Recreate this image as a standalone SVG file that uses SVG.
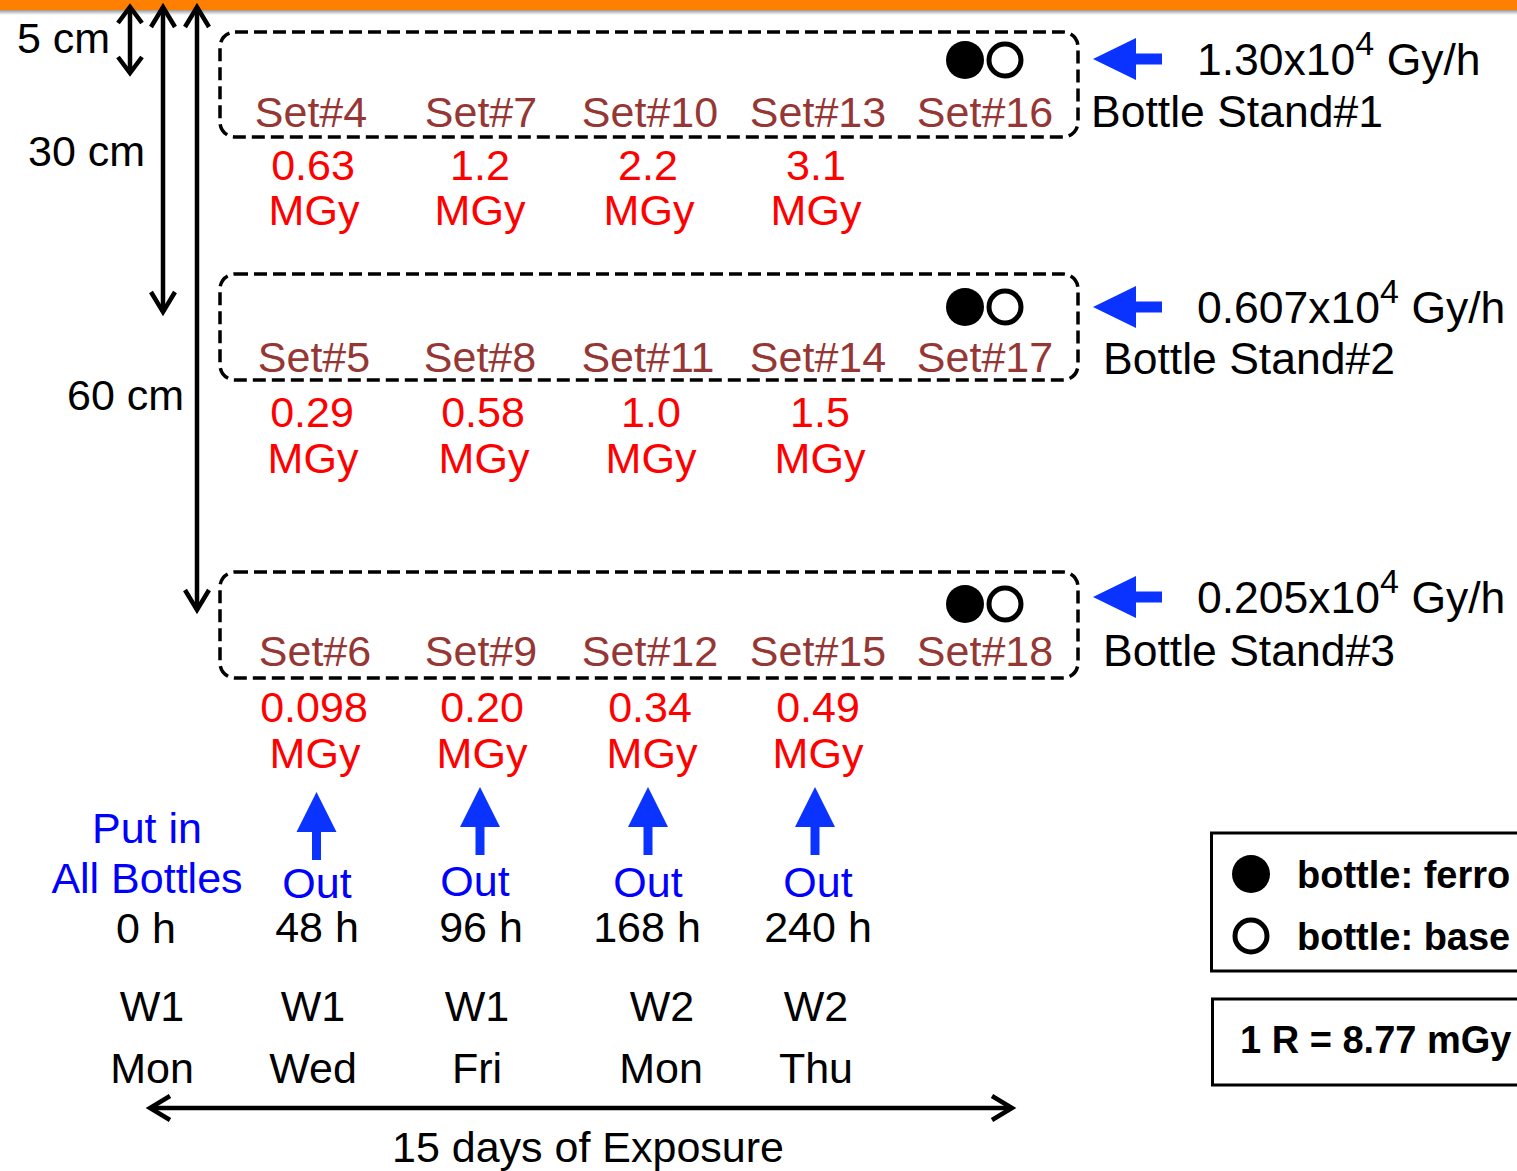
<svg xmlns="http://www.w3.org/2000/svg" width="1517" height="1171" viewBox="0 0 1517 1171">
<defs>
<linearGradient id="shadow" x1="0" y1="0" x2="0" y2="1">
<stop offset="0" stop-color="#9a9a9a"/>
<stop offset="1" stop-color="#ffffff"/>
</linearGradient>
<marker id="ah" viewBox="0 0 30 30" markerWidth="30" markerHeight="30" refX="23" refY="15" orient="auto-start-reverse" markerUnits="userSpaceOnUse">
<path d="M3,3 L23,15 L3,27" fill="none" stroke="#000" stroke-width="4.5"/>
</marker>
<marker id="ahs" viewBox="0 0 30 30" markerWidth="30" markerHeight="30" refX="23" refY="15" orient="auto-start-reverse" markerUnits="userSpaceOnUse">
<path d="M7,3 L23,15 L7,27" fill="none" stroke="#000" stroke-width="4.5"/>
</marker>
<path id="upArrow" d="M0,0 L20,40 L4.5,40 L4.5,68 L-4.5,68 L-4.5,40 L-20,40 Z"/>
<path id="leftArrow" d="M0,0 L43,-21 L43,-5.5 L69,-5.5 L69,5.5 L43,5.5 L43,21 Z"/>
</defs>
<style>
text{font-family:"Liberation Sans",Arial,sans-serif;font-size:43px;fill:#000}
.c{text-anchor:middle}
.set{fill:#953735}
.dose{fill:#ff0000}
.blue{fill:#0000ff}
.lab{font-size:44.5px}
.b{font-weight:bold;font-size:38px}
.stand{fill:none;stroke:#000;stroke-width:3.5;stroke-dasharray:13 6}
.line{fill:none;stroke:#000;stroke-width:4.5}
.barrow{fill:#0a33ff}
.box{fill:none;stroke:#000;stroke-width:3}
</style>
<rect x="0" y="0" width="1517" height="10" fill="#ff8000"/>
<rect x="0" y="10" width="1517" height="5" fill="url(#shadow)"/>

<g id="connectors">
<line class="line" x1="130" y1="7" x2="130" y2="73" marker-start="url(#ahs)" marker-end="url(#ahs)"/>
<line class="line" x1="163" y1="7" x2="163" y2="312" marker-start="url(#ah)" marker-end="url(#ah)"/>
<line class="line" x1="197" y1="7" x2="197" y2="610" marker-start="url(#ah)" marker-end="url(#ah)"/>
<line class="line" x1="150" y1="1108" x2="1012" y2="1108" marker-start="url(#ah)" marker-end="url(#ah)"/>
<use href="#leftArrow" x="1093" y="59" class="barrow"/>
<use href="#leftArrow" x="1093" y="307" class="barrow"/>
<use href="#leftArrow" x="1093" y="597" class="barrow"/>
<use href="#upArrow" x="316.5" y="792" class="barrow"/>
<use href="#upArrow" x="480" y="787" class="barrow"/>
<use href="#upArrow" x="648" y="787" class="barrow"/>
<use href="#upArrow" x="815" y="787" class="barrow"/>
</g>

<g id="dims">
<text x="17" y="53">5 cm</text>
<text x="28" y="166">30 cm</text>
<text x="67" y="410">60 cm</text>
</g>

<g id="stand1">
<rect class="stand" x="220" y="32" width="858" height="105" rx="15"/>
<circle cx="965" cy="60" r="19" fill="#000"/>
<circle cx="1005" cy="60" r="16" fill="none" stroke="#000" stroke-width="5"/>
<text class="c set" x="311" y="127">Set#4</text>
<text class="c set" x="481" y="127">Set#7</text>
<text class="c set" x="650" y="127">Set#10</text>
<text class="c set" x="818" y="127">Set#13</text>
<text class="c set" x="985" y="127">Set#16</text>
<text class="lab" x="1197" y="75">1.30x10<tspan font-size="34" dy="-20">4</tspan><tspan dy="20"> Gy/h</tspan></text>
<text class="lab" x="1091" y="127">Bottle Stand#1</text>
</g>
<g id="doses1">
<text class="c dose" x="313" y="180">0.63</text>
<text class="c dose" x="480" y="180">1.2</text>
<text class="c dose" x="648" y="180">2.2</text>
<text class="c dose" x="816" y="180">3.1</text>
<text class="c dose" x="314" y="225">MGy</text>
<text class="c dose" x="480" y="225">MGy</text>
<text class="c dose" x="649" y="225">MGy</text>
<text class="c dose" x="816" y="225">MGy</text>
</g>

<g id="stand2">
<rect class="stand" x="220" y="274" width="858" height="106" rx="15"/>
<circle cx="965" cy="307" r="19" fill="#000"/>
<circle cx="1005" cy="307" r="16" fill="none" stroke="#000" stroke-width="5"/>
<text class="c set" x="314" y="372">Set#5</text>
<text class="c set" x="480" y="372">Set#8</text>
<text class="c set" x="648" y="372">Set#11</text>
<text class="c set" x="818" y="372">Set#14</text>
<text class="c set" x="985" y="372">Set#17</text>
<text class="lab" x="1197" y="323">0.607x10<tspan font-size="34" dy="-20">4</tspan><tspan dy="20"> Gy/h</tspan></text>
<text class="lab" x="1103" y="374">Bottle Stand#2</text>
</g>
<g id="doses2">
<text class="c dose" x="312" y="427">0.29</text>
<text class="c dose" x="483" y="427">0.58</text>
<text class="c dose" x="651" y="427">1.0</text>
<text class="c dose" x="820" y="427">1.5</text>
<text class="c dose" x="313" y="473">MGy</text>
<text class="c dose" x="484" y="473">MGy</text>
<text class="c dose" x="651" y="473">MGy</text>
<text class="c dose" x="820" y="473">MGy</text>
</g>

<g id="stand3">
<rect class="stand" x="220" y="572" width="858" height="106" rx="15"/>
<circle cx="965" cy="604" r="19" fill="#000"/>
<circle cx="1005" cy="604" r="16" fill="none" stroke="#000" stroke-width="5"/>
<text class="c set" x="315" y="666">Set#6</text>
<text class="c set" x="481" y="666">Set#9</text>
<text class="c set" x="650" y="666">Set#12</text>
<text class="c set" x="818" y="666">Set#15</text>
<text class="c set" x="985" y="666">Set#18</text>
<text class="lab" x="1197" y="613">0.205x10<tspan font-size="34" dy="-20">4</tspan><tspan dy="20"> Gy/h</tspan></text>
<text class="lab" x="1103" y="666">Bottle Stand#3</text>
</g>
<g id="doses3">
<text class="c dose" x="314" y="722">0.098</text>
<text class="c dose" x="482" y="722">0.20</text>
<text class="c dose" x="650" y="722">0.34</text>
<text class="c dose" x="818" y="722">0.49</text>
<text class="c dose" x="315" y="768">MGy</text>
<text class="c dose" x="482" y="768">MGy</text>
<text class="c dose" x="652" y="768">MGy</text>
<text class="c dose" x="818" y="768">MGy</text>
</g>

<g id="timeline">
<text class="c blue" x="147" y="843">Put in</text>
<text class="c blue" x="147" y="893">All Bottles</text>
<text class="c" x="146" y="943">0 h</text>
<text class="c blue" x="317" y="898">Out</text>
<text class="c blue" x="475" y="896">Out</text>
<text class="c blue" x="648" y="897">Out</text>
<text class="c blue" x="818" y="897">Out</text>
<text class="c" x="317" y="942">48 h</text>
<text class="c" x="481" y="942">96 h</text>
<text class="c" x="647" y="942">168 h</text>
<text class="c" x="818" y="942">240 h</text>
<text class="c" x="152" y="1021">W1</text>
<text class="c" x="313" y="1021">W1</text>
<text class="c" x="477" y="1021">W1</text>
<text class="c" x="662" y="1021">W2</text>
<text class="c" x="816" y="1021">W2</text>
<text class="c" x="152" y="1083">Mon</text>
<text class="c" x="313" y="1083">Wed</text>
<text class="c" x="477" y="1083">Fri</text>
<text class="c" x="661" y="1083">Mon</text>
<text class="c" x="816" y="1083">Thu</text>
<text class="c" x="588" y="1162">15 days of Exposure</text>
</g>

<g id="legend">
<rect class="box" x="1211.5" y="833" width="330" height="138"/>
<circle cx="1251" cy="874" r="19" fill="#000"/>
<circle cx="1251" cy="936" r="16" fill="none" stroke="#000" stroke-width="5"/>
<text class="b" x="1297" y="888">bottle: ferro</text>
<text class="b" x="1297" y="950">bottle: base</text>
</g>
<g id="conversion">
<rect class="box" x="1212.5" y="999" width="330" height="86"/>
<text class="b" x="1240" y="1053">1 R = 8.77 mGy</text>
</g>
</svg>
